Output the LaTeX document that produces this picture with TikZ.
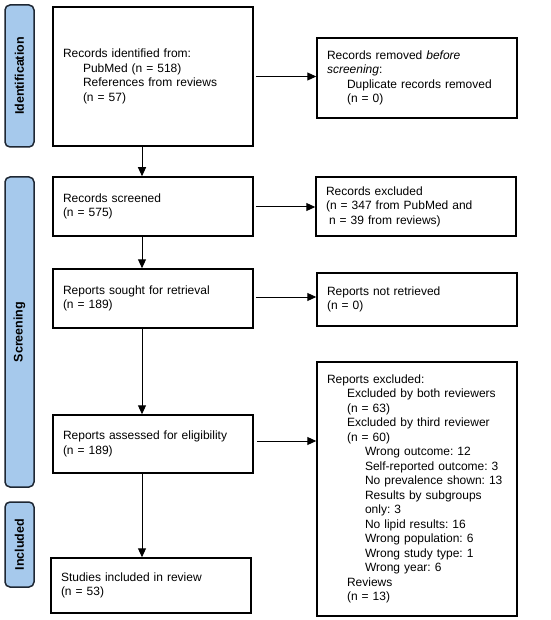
\documentclass[tikz,border=0pt]{standalone}
\usepackage{fontspec}
\setmainfont{Liberation Sans}
\usepackage{tikz}
\usetikzlibrary{arrows.meta,positioning,calc}
\definecolor{phfill}{HTML}{A6C9EC}
\definecolor{phline}{HTML}{1E2733}
\newcommand\ind{\hspace*{20pt}}
\newcommand\indd{\hspace*{38pt}}
\frenchspacing
\tikzset{
  box/.style={draw=black,line width=1.5pt,text width=180pt,inner xsep=10pt,inner ysep=0pt,align=left,font=\fontsize{12}{14.5}\selectfont},
  phase/.style={draw=phline,fill=phfill,line width=1.5pt,rounded corners=5pt,rotate=90,minimum height=29pt,inner sep=0pt,font=\fontsize{12.5}{14}\selectfont\bfseries},
  arr/.style={-{Triangle[length=9pt,width=8pt]},line width=1pt,draw=black},
}
\begin{document}
\begin{tikzpicture}[x=1pt,y=-1pt]
  \useasboundingbox (0,0) rectangle (550,620);
  % phases
  \node[phase,minimum width=142pt] (idph) at (19.5,76) {Identification};
  \node[phase,minimum width=310pt] (scph) at (19.5,332) {Screening};
  \node[phase,minimum width=85pt] (inph) at (19.5,544.5) {Included};
  % main column
  \coordinate (spine) at (142,0);
  \node[box,minimum height=139pt] (ident) at (153,76.5) {Records identified from:\\
    \ind PubMed (n = 518)\\
    \ind References from reviews\\
    \ind (n = 57)};
  \node[box,minimum height=59pt] (screened) at (153,206.5) {Records screened\\(n = 575)};
  \node[box,minimum height=59pt] (sought) at (153,298.5) {Reports sought for retrieval\\(n = 189)};
  \node[box,minimum height=58pt] (assessed) at (153,444) {Reports assessed for eligibility\\(n = 189)};
  \node[box,minimum height=55pt] (incl) at (151,585.5) {Studies included in review\\(n = 53)};
  % side column
  \node[box,minimum height=80pt] (removed) at (417,78) {Records removed \textit{before}\\
    \textit{screening}:\\
    \ind Duplicate records removed\\
    \ind (n = 0)};
  \node[box,minimum height=59pt] (excl) at (416,206.5) {Records excluded\\
    (n = 347 from PubMed and\\
    \hspace*{3pt}n = 39 from reviews)};
  \node[box,minimum height=53pt] (notret) at (417,299.5) {Reports not retrieved\\(n = 0)};
  \node[box,minimum height=254pt] (rexcl) at (417,489) {Reports excluded:\\
    \ind Excluded by both reviewers\\
    \ind (n = 63)\\
    \ind Excluded by third reviewer\\
    \ind (n = 60)\\
    \indd Wrong outcome: 12\\
    \indd Self-reported outcome: 3\\
    \indd No prevalence shown: 13\\
    \indd Results by subgroups\\
    \indd only: 3\\
    \indd No lipid results: 16\\
    \indd Wrong population: 6\\
    \indd Wrong study type: 1\\
    \indd Wrong year: 6\\
    \ind Reviews\\
    \ind (n = 13)};
  % arrows
  \draw[arr] (ident.south -| spine) -- (screened.north -| spine);
  \draw[arr] (screened.south -| spine) -- (sought.north -| spine);
  \draw[arr] (sought.south -| spine) -- (assessed.north -| spine);
  \draw[arr] (assessed.south -| spine) -- (incl.north -| spine);
  \draw[arr] ([xshift=2pt]ident.east) -- (ident.east -| removed.west);
  \draw[arr] ([xshift=2pt,yshift=-0.5pt]screened.east) -- ([yshift=-0.5pt]screened.east -| excl.west);
  \draw[arr] ([xshift=2pt,yshift=1.5pt]sought.east) -- ([yshift=1.5pt]sought.east -| notret.west);
  \draw[arr] ([xshift=3pt,yshift=3pt]assessed.east) -- ([yshift=3pt]assessed.east -| rexcl.west);
\end{tikzpicture}
\end{document}
